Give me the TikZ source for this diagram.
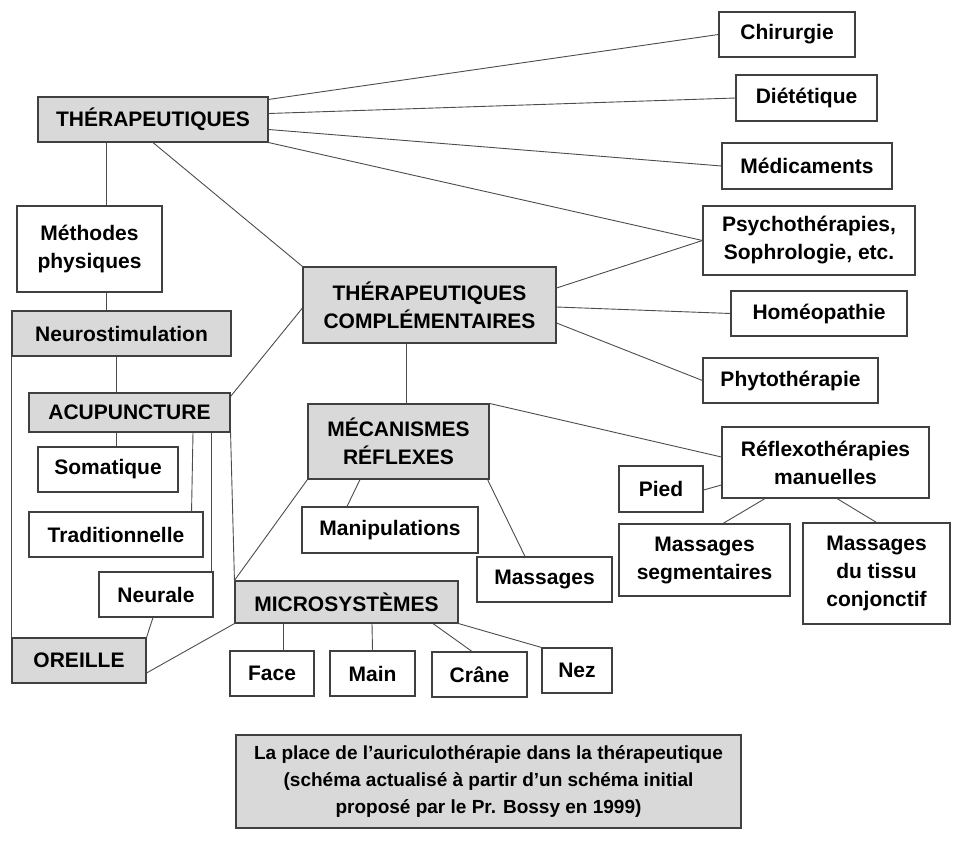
\documentclass[tikz,border=0pt]{standalone}
\usepackage{fontspec}
\setmainfont{Liberation Sans}
\definecolor{boxgrey}{RGB}{217,217,217}
\tikzset{
  box/.style={draw=black!75,line width=1.1pt,fill=white,align=center,inner sep=0pt,
    font=\fontsize{21}{28}\selectfont\bfseries},
  greybox/.style={box,fill=boxgrey},
  dims/.style 2 args={minimum width=#1pt,minimum height=#2pt},
  link/.style={draw=black!70,line width=0.9pt}
}

\begin{document}
\begin{tikzpicture}[x=1pt,y=-1pt]
  \useasboundingbox (0,0) rectangle (953,846);

  \node[greybox,dims={230}{45}] (ther) at (153,119.5) {THÉRAPEUTIQUES};
  \node[box,dims={145}{86}] (meth) at (89.5,249) {Méthodes\\physiques};
  \node[greybox,dims={219}{45}] (neuro) at (121.5,333.5) {Neurostimulation};
  \node[greybox,dims={201}{39}] (acu) at (129.5,412.5) {ACUPUNCTURE};
  \node[box,dims={140}{45}] (soma) at (108,469.5) {Somatique};
  \node[box,dims={174}{45}] (trad) at (116,534.5) {Traditionnelle};
  \node[box,dims={114}{45}] (neural) at (156,594.5) {Neurale};
  \node[greybox,dims={134}{45}] (oreille) at (79,660.5) {OREILLE};

  \node[greybox,dims={253}{76}] (compl) at (429.5,305) {THÉRAPEUTIQUES\\COMPLÉMENTAIRES};
  \node[greybox,dims={181}{75}] (meca) at (398.5,441.5) {MÉCANISMES\\RÉFLEXES};
  \node[greybox,dims={223}{42}] (micro) at (346.5,602) {MICROSYSTÈMES};
  \node[box,dims={176}{46}] (manip) at (390,530) {Manipulations};
  \node[box,dims={135}{45}] (mass) at (544.5,579.5) {Massages};
  \node[box,dims={84}{45}] (face) at (272,673.5) {Face};
  \node[box,dims={85}{45}] (main) at (372.5,673.5) {Main};
  \node[box,dims={95}{45}] (crane) at (479.5,674.5) {Crâne};
  \node[box,dims={70}{45}] (nez) at (577,670.5) {Nez};

  \node[box,dims={207}{71}] (reflexo) at (825.5,462.5) {Réflexothérapies\\manuelles};
  \node[box,dims={84}{46}] (pied) at (661,489) {Pied};
  \node[box,dims={171}{72}] (mseg) at (704.5,560) {Massages\\segmentaires};
  \node[box,dims={147}{101}] (mtissu) at (876.5,573.5) {Massages\\du tissu\\conjonctif};

  \node[box,dims={136}{45}] (chir) at (787,34.5) {Chirurgie};
  \node[box,dims={141}{46}] (diet) at (806.5,98) {Diététique};
  \node[box,dims={170}{46}] (medic) at (807,166) {Médicaments};
  \node[box,dims={212}{69}] (psy) at (809,240.5) {Psychothérapies,\\Sophrologie, etc.};
  \node[box,dims={176}{45}] (homeo) at (819,313.5) {Homéopathie};
  \node[box,dims={175}{45}] (phyto) at (790.5,380.5) {Phytothérapie};

  \node[greybox,dims={505}{93},font=\fontsize{19}{27}\selectfont\bfseries] (legende) at (488.5,781.5)
    {La place de l’auriculothérapie dans la thérapeutique\\(schéma actualisé à partir d’un schéma initial\\proposé par le Pr. Bossy en 1999)};

  \draw[link] ([yshift=-3pt]ther.north east) -- (chir.west);
  \draw[link] ([yshift=6pt]ther.east) -- (diet.west);
  \draw[link] ([yshift=-10pt]ther.east) -- (medic.west);
  \draw[link] (ther.south east) -- (psy.west);
  \draw[link] (ther.south) -- (compl.north west);
  \draw[link] ([xshift=-47pt]ther.south) -- ([xshift=16.5pt]meth.north);
  \draw[link] ([xshift=16.5pt]meth.south) -- ([xshift=-15.5pt]neuro.north);
  \draw[link] ([xshift=-5.5pt]neuro.south) -- ([xshift=-13.5pt]acu.north);
  \draw[link] (neuro.south west) -- (oreille.north west);

  \draw[link] ([xshift=-13.5pt]acu.south) -- ([xshift=8pt]soma.north);
  \draw[link] ([xshift=63.5pt]acu.south) -- ([xshift=-12pt]trad.north east);
  \draw[link] ([xshift=-19pt]acu.south east) -- ([xshift=-2pt]neural.north east);
  \draw[link] (acu.south east) -- (micro.north west);
  \draw[link] ([yshift=-4pt]acu.north east) -- ([yshift=-3pt]compl.west);
  \draw[link] ([xshift=-3pt]neural.south) -- (oreille.north east);
  \draw[link] ([yshift=-12.5pt]oreille.east) -- (micro.south west);

  \draw[link] ([xshift=-23.5pt]compl.south) -- ([xshift=7.5pt]meca.north);
  \draw[link] ([yshift=17pt]compl.east) -- (psy.west);
  \draw[link] ([yshift=-2pt]compl.east) -- (homeo.west);
  \draw[link] ([yshift=-18pt]compl.east) -- (phyto.west);

  \draw[link] (meca.south west) -- (micro.north west);
  \draw[link] ([xshift=-38.5pt]meca.south) -- ([xshift=-43pt]manip.north);
  \draw[link] ([xshift=-2pt]meca.south east) -- ([xshift=-19.5pt]mass.north);
  \draw[link] (meca.north east) -- ([yshift=5.5pt]reflexo.west);
  \draw[link] ([yshift=-1pt]pied.east) -- ([yshift=-22.5pt]reflexo.west);
  \draw[link] ([xshift=-60.5pt]reflexo.south) -- ([xshift=18.5pt]mseg.north);
  \draw[link] ([xshift=11.5pt]reflexo.south) -- (mtissu.north);

  \draw[link] ([xshift=-63.5pt]micro.south) -- ([xshift=11pt]face.north);
  \draw[link] ([xshift=25.5pt]micro.south) -- (main.north);
  \draw[link] ([xshift=86.5pt]micro.south) -- ([xshift=-7.5pt]crane.north);
  \draw[link] (micro.south east) -- (nez.north west);
\end{tikzpicture}
\end{document}
